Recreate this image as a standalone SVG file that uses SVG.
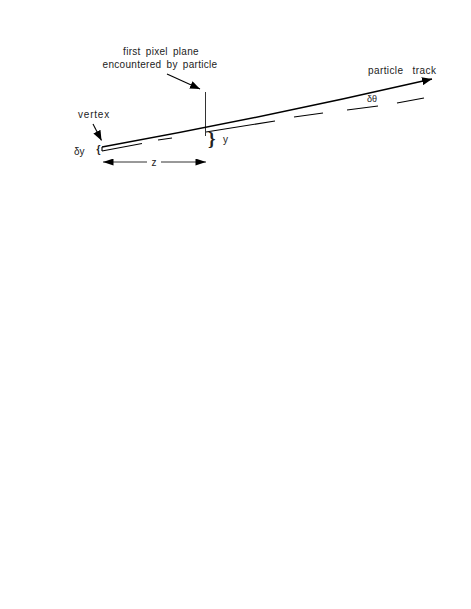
<svg xmlns="http://www.w3.org/2000/svg" width="471" height="609" viewBox="0 0 471 609">
<defs>
<style>
text{font-family:"Liberation Sans",Arial,sans-serif;font-size:10px;fill:#222}
.ln{stroke:#000;fill:none;stroke-width:1.1}
.tr{stroke:#000;fill:none;stroke-width:1.4}
.thin{stroke:#333;fill:none;stroke-width:1}
</style>
<marker id="ah" viewBox="0 0 10 8" refX="10" refY="4" markerWidth="10" markerHeight="8" markerUnits="userSpaceOnUse" orient="auto">
<path d="M0,0 L10,4 L0,8 z" fill="#000"/>
</marker>
<marker id="ahs" viewBox="0 0 12 8" refX="12" refY="4" markerWidth="12" markerHeight="7" markerUnits="userSpaceOnUse" orient="auto-start-reverse">
<path d="M0,0 L12,4 L0,8 z" fill="#000"/>
</marker>
</defs>
<rect width="471" height="609" fill="#fff"/>
<g id="pixel-plane">
<line class="thin" x1="205.5" y1="92" x2="205.5" y2="136"/>
<text x="161" y="55" text-anchor="middle" word-spacing="2" letter-spacing="0.3">first pixel plane</text>
<text x="160" y="68" text-anchor="middle" word-spacing="2" letter-spacing="0.3">encountered by particle</text>
</g>
<g id="track">
<text x="368" y="74" word-spacing="6" letter-spacing="0.4">particle track</text>
</g>
<g id="vertex">
<text x="78" y="118" letter-spacing="0.8">vertex</text>
<text x="74" y="155">δy</text>
<text x="96.5" y="153" style="font-size:10px;font-weight:bold">{</text>
</g>
<g id="y-label">
<text x="208" y="145" style="font-size:19px;font-family:'Liberation Serif',serif;font-weight:bold">}</text>
<text x="223" y="143">y</text>
</g>
<g id="z-label">
<text x="154" y="166" text-anchor="middle">z</text>
</g>
<g id="dtheta-label">
<text x="367" y="102" style="font-size:9px">δθ</text>
</g>
<g id="connectors">
<path class="tr" d="M102,147 Q267,117 432,79" marker-end="url(#ah)"/>
<line class="ln" x1="102" y1="147" x2="102" y2="151"/>
<line class="ln" x1="102" y1="151" x2="142" y2="143.5"/>
<line class="ln" x1="158" y1="140" x2="172" y2="138"/>
<line class="ln" x1="206" y1="132" x2="275" y2="121"/>
<line class="ln" x1="294" y1="117" x2="323" y2="113"/>
<line class="ln" x1="347" y1="110" x2="378" y2="106"/>
<line class="ln" x1="397" y1="103" x2="424" y2="98"/>
<line class="ln" x1="167" y1="74" x2="200" y2="89" marker-end="url(#ah)"/>
<line class="ln" x1="93" y1="124" x2="101.5" y2="140.5" marker-end="url(#ah)"/>
<line class="thin" x1="103" y1="162" x2="147" y2="162" marker-start="url(#ahs)"/>
<line class="thin" x1="161" y1="162" x2="206" y2="162" marker-end="url(#ahs)"/>
</g>
</svg>
